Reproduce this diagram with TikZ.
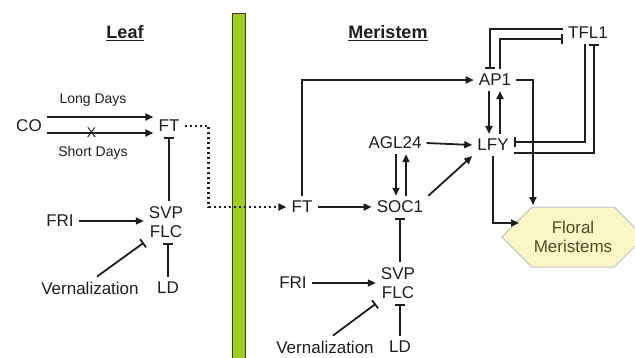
\documentclass[tikz,border=0pt]{standalone}
\usepackage{fontspec}
\setmainfont{Liberation Sans}
\usetikzlibrary{arrows.meta,shapes.symbols}
\definecolor{barlime}{HTML}{9FCF1D}
\definecolor{barline}{HTML}{3A3A3A}
\definecolor{hexfill}{HTML}{FAF6C6}
\definecolor{hexline}{HTML}{C4C4C4}
\definecolor{hextext}{HTML}{4F4B2B}
\definecolor{inkgray}{HTML}{1E1E1E}

\newcommand{\genefont}{\fontsize{17}{19}\selectfont}
\newcommand{\cuefont}{\fontsize{14}{16}\selectfont}

\begin{document}
\begin{tikzpicture}[x=1pt,y=-1pt,
  gene/.style={font=\genefont,inkgray,inner sep=5pt,align=center},
  cue/.style={font=\cuefont,inkgray,inner sep=2pt},
  act/.style={inkgray,line width=1.8pt,-{Triangle[length=8pt,width=7pt]}},
  inh/.style={inkgray,line width=1.8pt,-{Bar[width=10pt]}},
  mobile/.style={inkgray,line width=2.2pt,dash pattern=on 2.4pt off 2.6pt,
                 -{Triangle[length=8pt,width=7pt]}}]

  \useasboundingbox (0,0) rectangle (635,357);

  % ---- leaf / meristem divide ----
  \draw[barline,fill=barlime,line width=0.8pt] (232,13) rectangle (245,362);
  \node[font=\fontsize{18}{20}\selectfont\bfseries,inkgray] (leaftitle)
        at (125,33) {\underline{Leaf}};
  \node[font=\fontsize{18}{20}\selectfont\bfseries,inkgray] (meristitle)
        at (388,33) {\underline{Meristem}};

  % ---- leaf genes ----
  \node[gene] (co)    at (29,126)  {CO};
  \node[gene] (ftl)   at (169,126) {FT};
  \node[gene] (svpl)  at (166,222) {SVP\\FLC};
  \node[gene] (fril)  at (60,221)  {FRI};
  \node[gene] (vernl) at (90,288)  {Vernalization};
  \node[gene] (ldl)   at (168,288) {LD};
  \node[cue]  (longd)  at (93,100) {Long Days};
  \node[cue]  (shortd) at (93,153) {Short Days};

  % ---- meristem genes ----
  \node[gene] (ftm)   at (302,207) {FT};
  \node[gene] (soc)   at (400,207) {SOC1};
  \node[gene] (agl)   at (395,143) {AGL24};
  \node[gene] (ap1)   at (495,80)  {AP1};
  \node[gene] (lfy)   at (493,145) {LFY};
  \node[gene] (tfl)   at (588,33)  {TFL1};
  \node[gene] (svpm)  at (398,283) {SVP\\FLC};
  \node[gene] (frim)  at (293,283) {FRI};
  \node[gene] (vernm) at (325,347) {Vernalization};
  \node[gene] (ldm)   at (400,347) {LD};
  \node[signal,signal to=west and east,fill=hexfill,draw=hexline,line width=1pt,
        minimum width=122pt,minimum height=60pt,font=\genefont,text=hextext,
        align=center,inner sep=2pt] (fm) at (573,237) {Floral\\Meristems};
  \coordinate (fmtop)  at (533,205);
  \coordinate (fmside) at (519,223);

  % ---- leaf connectors ----
  \draw[act] ([yshift=9pt]co.east) -- ([yshift=9pt]ftl.west);
  \draw[act] ([yshift=-7pt]co.east) -- ([yshift=-7pt]ftl.west)
        node[pos=0.42,cue,inner sep=0pt] (nox) {X};
  \draw[inh] (svpl.north -| ftl.south) -- (ftl.south);
  \draw[act] (fril.east) -- (fril.east -| svpl.west);
  \draw[inh] ([xshift=7pt]vernl.north) -- (svpl.south west);
  \draw[inh] (ldl.north) -- (ldl.north |- svpl.south);

  % ---- FT moves to the meristem ----
  \draw[mobile] (ftl.east) -- ++(24,0) |- (ftm.west);

  % ---- meristem connectors ----
  \draw[act] (ftm.east) -- (soc.west);
  \draw[act] (ftm.north) |- (ap1.west);
  \coordinate (aglL) at ([xshift=-4pt]soc.north);
  \coordinate (aglR) at ([xshift=6pt]soc.north);
  \draw[act] (aglL |- agl.south) -- (aglL);
  \draw[act] (aglR) -- (aglR |- agl.south);
  \draw[act] (agl.east) -- (lfy.west);
  \draw[act] (soc.north east) -- (lfy.south west);
  \coordinate (apL) at ([xshift=-6pt]ap1.south);
  \coordinate (apR) at ([xshift=5pt]ap1.south);
  \draw[act] (apL) -- (apL |- lfy.north);
  \draw[act] (apR |- lfy.north) -- (apR);
  \draw[inh] ([yshift=4pt]tfl.west) -| ([xshift=-5pt]ap1.north);
  \draw[inh] ([xshift=5pt]ap1.north) |- ([yshift=-6pt]tfl.west);
  \draw[inh] ([xshift=-3pt]tfl.south) |- ([yshift=3pt]lfy.east);
  \draw[inh] ([yshift=-8pt]lfy.east) -| ([xshift=6pt]tfl.south);
  \draw[act] (ap1.east) -| (fmtop);
  \draw[act] (lfy.south) |- (fmside);
  \draw[inh] (soc.south |- svpm.north) -- (soc.south);
  \draw[act] (frim.east) -- (frim.east -| svpm.west);
  \draw[inh] ([xshift=8pt]vernm.north) -- (svpm.south west);
  \draw[inh] (ldm.north) -- (ldm.north |- svpm.south);

\end{tikzpicture}
\end{document}
